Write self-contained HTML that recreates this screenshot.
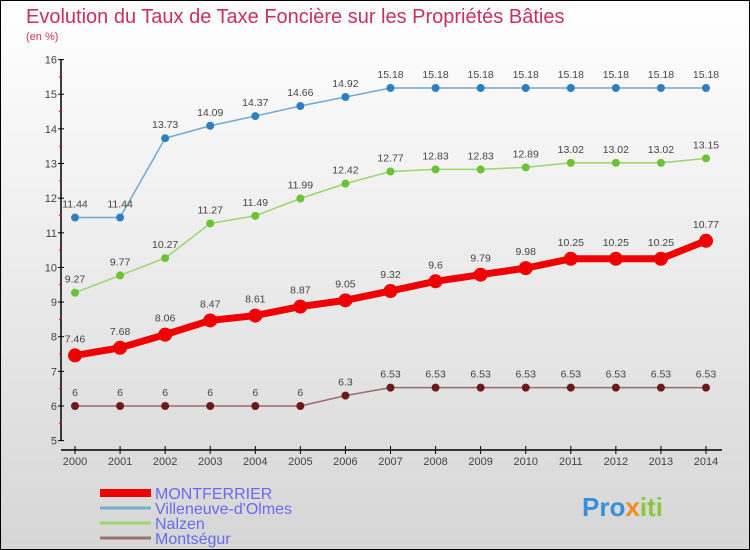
<!DOCTYPE html>
<html><head><meta charset="utf-8"><style>
body{margin:0;}
#c{width:750px;height:550px;position:relative;box-sizing:border-box;border:1px solid #000;background:linear-gradient(#fff 0%,#f3f3f3 30%,#d6d6d6 100%);overflow:hidden;font-family:"Liberation Sans",sans-serif;}
</style></head><body>
<div id="c">
<svg id="s" width="750" height="550" style="position:absolute;left:-1px;top:-1px">
<text x="26" y="23" font-size="20" fill="#c8305e">Evolution du Taux de Taxe Foncière sur les Propriétés Bâties</text>
<text x="26" y="40" font-size="11" fill="#c8305e">(en %)</text>
</svg>
</div>
<script>
const years=[2000,2001,2002,2003,2004,2005,2006,2007,2008,2009,2010,2011,2012,2013,2014];
const montferrier=[7.46,7.68,8.06,8.47,8.61,8.87,9.05,9.32,9.6,9.79,9.98,10.25,10.25,10.25,10.77];
const villeneuve=[11.44,11.44,13.73,14.09,14.37,14.66,14.92,15.18,15.18,15.18,15.18,15.18,15.18,15.18,15.18];
const nalzen=[9.27,9.77,10.27,11.27,11.49,11.99,12.42,12.77,12.83,12.83,12.89,13.02,13.02,13.02,13.15];
const montsegur=[6,6,6,6,6,6,6.3,6.53,6.53,6.53,6.53,6.53,6.53,6.53,6.53];
const yTicks=[5,6,7,8,9,10,11,12,13,14,15,16];
const names=["MONTFERRIER","Villeneuve-d'Olmes","Nalzen","Montségur"];
const NS="http://www.w3.org/2000/svg";
const s=document.getElementById('s');
const X=i=>75+i*(706-75)/(years.length-1);
const Y=v=>406-(v-6)*34.64;
function mk(t,a,p){const e=document.createElementNS(NS,t);for(const k in a)e.setAttribute(k,a[k]);(p||s).appendChild(e);return e;}
// axes
let ax=mk('line',{x1:61,y1:Y(16),x2:61,y2:Y(5),stroke:'#000','stroke-width':1.5});


let xa=mk('line',{x1:61,y1:450,x2:722,y2:450,stroke:'#000','stroke-width':1.5});


yTicks.forEach(v=>{
 mk('line',{x1:58,y1:Y(v),x2:64,y2:Y(v),stroke:'#000'});
 if(v<16)mk('line',{x1:59,y1:Y(v+0.5),x2:62,y2:Y(v+0.5),stroke:'#f00'});
 const t=mk('text',{x:57,y:Y(v)+4,'text-anchor':'end','font-size':11,fill:'#444'});t.textContent=v;
 
 
});
years.forEach((y,i)=>{
 mk('line',{x1:X(i),y1:446,x2:X(i),y2:454,stroke:'#000'});
 const t=mk('text',{x:X(i),y:465,'text-anchor':'middle','font-size':11,fill:'#444'});t.textContent=y;
 
 
});
function series(data,col,dot,w,r,name){
 const g=mk('g',{});
 
 
 mk('polyline',{points:data.map((v,i)=>X(i)+','+Y(v)).join(' '),fill:'none',stroke:col,'stroke-width':w,'stroke-linejoin':'round'},g);
 data.forEach((v,i)=>{
  const c=mk('circle',{cx:X(i),cy:Y(v),r:r,fill:dot},g);
  
  
  const t=mk('text',{x:X(i),y:Y(v)-10-(r>4?3:0),'text-anchor':'middle','font-size':10.5,fill:'#444'},g);t.textContent=v;
  
  
 });
}
series(villeneuve,'#6fa8d6','#2f7fc0',1.5,4,'villeneuve-series');
series(nalzen,'#99d66b','#6cc235',1.5,4,'nalzen-series');
series(montsegur,'#9a6b6b','#6b1a1a',1.5,4,'montsegur-series');
series(montferrier,'#ee0000','#ee0000',7,7,'montferrier-series');
// legend
const lc=['#ee0000','#7aaed0','#99d66b','#9a7070'],lw=[8,3,3,3];
names.forEach((n,i)=>{
 const y=493+i*15;
 const l=mk('line',{x1:100,y1:y,x2:151,y2:y,stroke:lc[i],'stroke-width':lw[i]});
 
 
 const t=mk('text',{x:155,y:y+6,'font-size':16,fill:'#6a6af0'});t.textContent=n;
 
 
});
const lg=mk('text',{x:582,y:516,'font-size':26,'font-weight':'bold',fill:'#3a8fd8'});


[['Pro','#3a8fd8'],['x','#f08c1a'],['iti','#8cc63f']].forEach(([t,c])=>{const sp=mk('tspan',{fill:c},lg);sp.textContent=t;});
</script>
</body></html>
